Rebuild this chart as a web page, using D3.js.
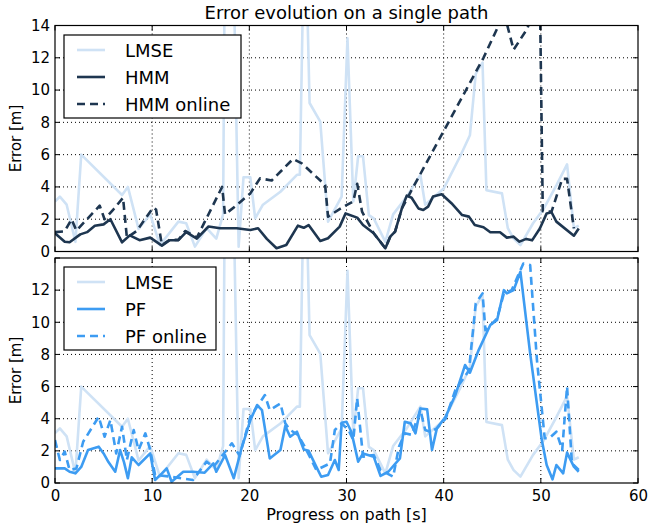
<!DOCTYPE html>
<html><head><meta charset="utf-8">
<script src="https://cdn.jsdelivr.net/npm/d3@7"></script>
<style>body{margin:0;background:#fff}svg{display:block}text{font-family:"DejaVu Sans",sans-serif;fill:#000}</style>
</head><body><svg id="c" width="665" height="525"></svg>
<script>
const title = "Error evolution on a single path";
const xLabel = "Progress on path [s]";
const yLabel = "Error [m]";
const xTicks = [0,10,20,30,40,50,60];
const yTicksTop = [0,2,4,6,8,10,12,14];
const yTicksBottom = [0,2,4,6,8,10,12];

const lmse = [[0,3.1],[0.5,3.4],[1.2,2.9],[2.1,0.6],[2.7,6.0],[6.9,3.5],[7.5,4.0],[8.6,1.4],[9.8,2.3],[10.8,0.4],[12.7,1.85],[13.5,1.75],[14.4,0.3],[15.6,1.45],[16.6,0.8],[17.3,2.3],[17.6,30],[18.0,30],[18.9,0.3],[19.4,4.6],[20.1,4.6],[20.6,2.05],[21.4,2.9],[23.2,3.7],[24.9,4.75],[25.2,4.75],[25.7,22],[26.2,9.2],[27.3,8.05],[28.1,1.85],[29.5,3.4],[30.1,13.2],[30.7,3.1],[31.2,5.9],[31.7,5.9],[32.3,2.25],[32.8,2.05],[34.0,0.6],[34.8,2.3],[36.2,3.4],[37.6,4.75],[38.1,2.9],[40.0,3.9],[41.7,5.9],[42.7,7.2],[43.3,11.0],[44.0,11.7],[44.4,3.8],[46.0,3.6],[46.6,1.45],[47.2,0.8],[47.9,0.4],[49.2,1.75],[50.3,2.65],[51.6,4.1],[52.7,5.4],[53.4,1.45],[53.9,1.6]];

const hmm = [[0,1.13],[1.0,0.6],[1.5,0.57],[2.6,1.06],[3.3,1.2],[4.1,1.6],[5.0,1.68],[5.7,2.0],[6.9,0.57],[7.7,1.0],[8.7,0.7],[9.8,0.86],[11.0,0.36],[11.8,0.7],[12.7,0.7],[13.5,1.2],[14.6,0.8],[15.8,1.55],[17.0,1.44],[18.7,1.44],[20.1,1.33],[20.9,1.44],[21.8,0.78],[22.8,0.2],[23.8,0.4],[25.0,1.6],[25.6,1.47],[26.1,1.64],[27.3,0.65],[28.1,0.82],[29.3,1.54],[29.9,2.36],[31.1,2.1],[31.7,1.64],[32.8,1.13],[34.0,0.2],[34.5,0.92],[35.0,1.23],[35.7,2.67],[36.2,3.46],[36.7,3.33],[37.4,2.67],[37.9,2.57],[38.4,2.78],[38.9,3.4],[39.8,3.55],[40.8,2.99],[41.9,2.26],[42.6,2.16],[43.2,1.64],[44.1,1.5],[44.8,1.19],[45.8,1.19],[46.5,0.86],[47.2,0.92],[47.8,0.61],[48.5,0.78],[49.1,0.69],[49.9,1.43],[50.6,2.36],[51.1,2.43],[51.6,1.85],[53.4,0.98],[53.9,1.43]];

const hmmOnline = [[0,1.2],[1.0,1.25],[1.7,2.0],[2.2,1.3],[3.3,2.0],[4.6,2.84],[5.1,2.0],[6.0,2.6],[7.0,3.33],[7.4,0.86],[8.4,1.27],[10.1,2.72],[10.4,2.6],[11.0,0.4],[11.8,0.72],[12.7,0.72],[13.4,1.27],[14.6,0.86],[17.2,4.0],[17.5,2.3],[18.5,2.78],[20.1,3.6],[21.1,4.53],[22.3,4.4],[24.5,5.73],[25.4,5.46],[27.8,4.12],[28.1,2.16],[29.7,2.78],[30.7,3.1],[31.1,4.2],[31.6,2.47],[32.8,1.13],[34.0,0.2],[34.5,0.92],[35.0,1.23],[35.7,2.67],[36.7,3.8],[44.1,12.0],[45.5,13.8],[46.2,14.8],[47.2,12.5],[48.6,13.8],[49.9,16],[50.2,2.5],[51.1,2.47],[52.2,4.5],[52.7,4.5],[53.4,1.43]];

const pf = [[0,0.91],[1.0,0.91],[1.5,0.7],[2.1,0.6],[2.7,1.0],[3.4,2.05],[4.5,2.26],[5.0,1.84],[5.5,1.3],[6.2,0.7],[6.7,2.05],[7.1,1.3],[7.5,0.3],[7.9,1.6],[8.6,1.12],[9.8,1.84],[10.3,0.19],[11.0,0.6],[11.5,0.91],[12.0,0.08],[13.2,0.7],[14.2,0.7],[15.4,0.64],[16.3,1.22],[16.6,0.7],[17.5,1.74],[18.4,0.3],[19.2,2.16],[20.1,3.9],[20.8,4.85],[21.3,4.54],[22.1,1.53],[23.2,2.05],[23.7,3.55],[24.2,2.88],[24.9,3.19],[25.6,2.09],[26.1,2.0],[26.9,1.0],[27.4,0.39],[28.1,0.5],[28.8,1.43],[29.2,0.81],[29.5,3.75],[30.0,3.81],[30.5,3.19],[31.2,1.33],[31.7,1.84],[32.8,1.64],[33.5,0.44],[34.3,0.7],[35.5,1.53],[36.0,3.81],[36.6,3.71],[37.1,3.09],[37.6,4.64],[38.3,4.58],[38.8,2.05],[39.3,3.4],[40.2,4.12],[41.2,5.47],[42.2,7.34],[42.7,6.86],[43.6,8.27],[44.8,9.83],[45.5,10.14],[46.2,12.0],[46.5,11.8],[47.2,12.0],[47.9,13.14],[48.9,8.06],[50.1,2.67],[50.6,1.12],[51.2,0.23],[51.6,1.12],[52.3,0.6],[52.7,1.89],[53.4,1.02],[53.9,0.7]];

const pfOnline = [[0,2.67],[0.5,1.43],[1.0,1.95],[1.5,0.81],[2.2,0.9],[2.9,2.57],[4.5,4.12],[5.1,2.88],[5.7,3.92],[6.3,1.84],[6.9,3.5],[7.4,1.43],[8.1,3.3],[8.6,2.05],[9.3,3.09],[9.8,2.05],[10.3,0.5],[11.8,0.4],[14.2,0.19],[15.6,1.33],[16.3,1.0],[18.2,2.47],[19.0,1.7],[20.1,4.12],[21.6,5.47],[22.1,4.54],[23.2,4.95],[23.7,3.71],[24.2,3.3],[25.0,3.0],[25.7,2.26],[26.9,0.81],[28.3,1.22],[28.8,3.3],[29.5,3.71],[30.2,3.3],[30.7,2.67],[31.1,5.27],[31.7,1.64],[32.8,1.74],[33.5,0.81],[34.8,0.39],[35.4,2.26],[36.0,3.09],[36.7,3.0],[37.6,4.54],[38.1,3.3],[38.6,3.19],[39.3,3.4],[40.2,4.0],[41.2,5.78],[42.6,7.0],[43.3,11.17],[44.0,11.8],[44.3,9.5],[45.5,10.24],[46.2,11.8],[47.0,12.0],[48.2,13.66],[48.9,13.56],[49.6,7.65],[50.4,2.78],[50.9,2.8],[51.6,3.19],[52.2,2.05],[52.7,6.0],[53.2,1.22],[53.9,0.81]];

const colLMSE = "#cfe2f5", colHMM = "#1e3650", colPF = "#3d9cf2";

const svg = d3.select("#c");
const L = 55, R = 638;
const x = d3.scaleLinear().domain([0,60]).range([L,R]);
const panels = [
  {top:25.5, bottom:251.5, yticks:yTicksTop, showX:false,
   series:[{name:"LMSE",data:lmse,color:colLMSE,dash:null},{name:"HMM",data:hmm,color:colHMM,dash:null},{name:"HMM online",data:hmmOnline,color:colHMM,dash:"8,5"}],
   legend:{x:64,y:35,w:177,h:83}},
  {top:258, bottom:483, yticks:yTicksBottom, showX:true,
   series:[{name:"LMSE",data:lmse,color:colLMSE,dash:null},{name:"PF",data:pf,color:colPF,dash:null},{name:"PF online",data:pfOnline,color:colPF,dash:"8,5"}],
   legend:{x:64,y:267,w:152,h:83}}
];

svg.append("text").attr("x",(L+R)/2).attr("y",19).attr("text-anchor","middle").style("font-size","18px").text(title);

panels.forEach((p,i)=>{
  const y = d3.scaleLinear().domain([0,14]).range([p.bottom,p.top]);
  const g = svg.append("g");
  const cid = "clip"+i;
  svg.append("clipPath").attr("id",cid).append("rect").attr("x",L).attr("y",p.top).attr("width",R-L).attr("height",p.bottom-p.top);
  const grid = g.append("g").attr("stroke","#000").attr("stroke-width",1).attr("stroke-dasharray","1,3");
  xTicks.slice(1,-1).forEach(t=>grid.append("line").attr("x1",x(t)).attr("x2",x(t)).attr("y1",p.top).attr("y2",p.bottom));
  d3.range(2,14,2).forEach(t=>grid.append("line").attr("x1",L).attr("x2",R).attr("y1",y(t)).attr("y2",y(t)));
  const line = d3.line().x(d=>x(d[0])).y(d=>y(d[1]));
  const lg = g.append("g").attr("clip-path",`url(#${cid})`);
  p.series.forEach(s=>{
    lg.append("path").attr("d",line(s.data)).attr("fill","none").attr("stroke",s.color)
      .attr("stroke-width",2.6).attr("stroke-linejoin","round").attr("stroke-dasharray",s.dash);
  });
  const axL = g.append("g").attr("transform",`translate(${L},0)`).call(d3.axisLeft(y).tickValues(p.yticks).tickSize(0).tickPadding(5));
  const axB = g.append("g").attr("transform",`translate(0,${p.bottom})`).call(d3.axisBottom(x).tickValues(xTicks).tickSize(0).tickPadding(7).tickFormat(p.showX?d3.format("d"):()=>""));
  [axL,axB].forEach(a=>{a.select(".domain").remove(); a.selectAll("text").style("font-size","15px").attr("font-family","DejaVu Sans");});
  const tk = g.append("g").attr("stroke","#000").attr("stroke-width",1);
  xTicks.forEach(t=>{
    tk.append("line").attr("x1",x(t)).attr("x2",x(t)).attr("y1",p.bottom).attr("y2",p.bottom-5);
    tk.append("line").attr("x1",x(t)).attr("x2",x(t)).attr("y1",p.top).attr("y2",p.top+5);
  });
  yTicksTop.forEach(t=>{
    tk.append("line").attr("x1",L).attr("x2",L+5).attr("y1",y(t)).attr("y2",y(t));
    tk.append("line").attr("x1",R).attr("x2",R-5).attr("y1",y(t)).attr("y2",y(t));
  });
  g.append("rect").attr("x",L).attr("y",p.top).attr("width",R-L).attr("height",p.bottom-p.top)
    .attr("fill","none").attr("stroke","#000").attr("stroke-width",1.2);
  svg.append("text").attr("transform",`translate(21,${(p.top+p.bottom)/2}) rotate(-90)`).attr("text-anchor","middle")
    .style("font-size","15px").text(yLabel);
  const lgd = svg.append("g");
  lgd.append("rect").attr("x",p.legend.x).attr("y",p.legend.y).attr("width",p.legend.w).attr("height",p.legend.h)
    .attr("fill","#fff").attr("stroke","#000").attr("stroke-width",1.2);
  p.series.forEach((s,k)=>{
    const cy = p.legend.y + 15 + k*27;
    lgd.append("line").attr("x1",77).attr("x2",105).attr("y1",cy).attr("y2",cy).attr("stroke",s.color)
      .attr("stroke-width",2.6).attr("stroke-dasharray",s.dash);
    lgd.append("text").attr("x",125).attr("y",cy+6.5).style("font-size","18px").text(s.name);
  });
});
svg.append("text").attr("x",(L+R)/2).attr("y",520).attr("text-anchor","middle").style("font-size","16px").text(xLabel);
</script></body></html>
